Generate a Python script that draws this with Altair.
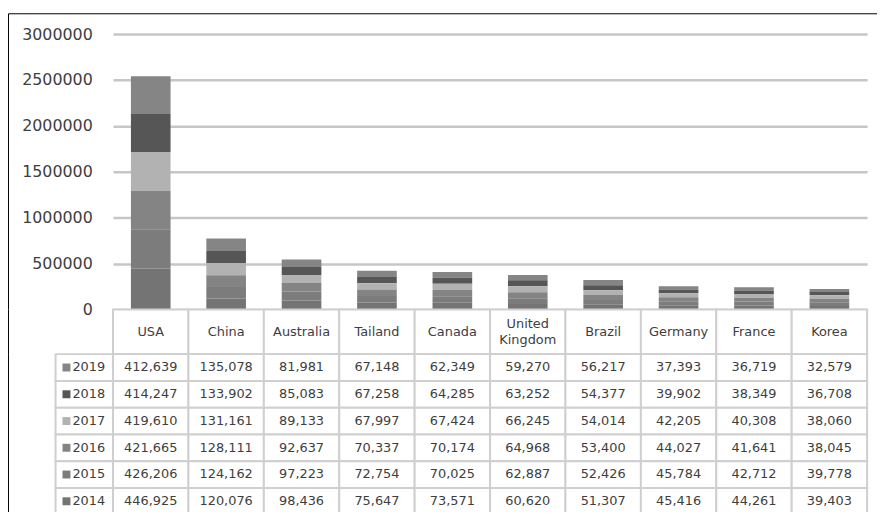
import altair as alt
import pandas as pd

countries = ["USA", "China", "Australia", "Tailand", "Canada", "United Kingdom",
             "Brazil", "Germany", "France", "Korea"]
header_labels = ["USA", "China", "Australia", "Tailand", "Canada", "United\nKingdom",
                 "Brazil", "Germany", "France", "Korea"]
years = ["2019", "2018", "2017", "2016", "2015", "2014"]

v2019 = [412639, 135078, 81981, 67148, 62349, 59270, 56217, 37393, 36719, 32579]
v2018 = [414247, 133902, 85083, 67258, 64285, 63252, 54377, 39902, 38349, 36708]
v2017 = [419610, 131161, 89133, 67997, 67424, 66245, 54014, 42205, 40308, 38060]
v2016 = [421665, 128111, 92637, 70337, 70174, 64968, 53400, 44027, 41641, 38045]
v2015 = [426206, 124162, 97223, 72754, 70025, 62887, 52426, 45784, 42712, 39778]
v2014 = [446925, 120076, 98436, 75647, 73571, 60620, 51307, 45416, 44261, 39403]

y_ticks = [0, 500000, 1000000, 1500000, 2000000, 2500000, 3000000]
colors = ["#858585", "#565656", "#b2b2b2", "#848484", "#7c7c7c", "#747474"]

series = {"2019": v2019, "2018": v2018, "2017": v2017,
          "2016": v2016, "2015": v2015, "2014": v2014}
rows = []
for yr, vals in series.items():
    for c, v in zip(countries, vals):
        rows.append({"country": c, "year": yr, "yearnum": int(yr),
                     "value": v, "label": f"{v:,}"})
df = pd.DataFrame(rows)
hdr_df = pd.DataFrame({"country": countries, "label": header_labels})
hdr_df["lines"] = hdr_df["label"].str.count("\n") + 1
leg_df = pd.DataFrame({"year": years})
one = alt.Data(values=[{"k": 1}])

FONT = "DejaVu Sans"
TXT = "#3e3e3e"
BORDER = "#cfcfcf"
W = 761
ROWS_H = 162          # full height of the six table rows

xsc = alt.Scale(domain=countries, paddingInner=0, paddingOuter=0)
csc = alt.Scale(domain=years, range=colors)
ysc = alt.Scale(domain=years, paddingInner=0, paddingOuter=0)
X = alt.X("country:N", scale=xsc, axis=None)
YR = alt.Y("year:N", scale=ysc, axis=None)

# ---- stacked bars ----
bars = alt.Chart(df).mark_bar(size=40).encode(
    x=X,
    y=alt.Y("value:Q", stack="zero",
            scale=alt.Scale(domain=[0, 3000000], nice=False),
            axis=alt.Axis(values=y_ticks, format="d", title=None, grid=True,
                          gridColor="#c6c6c6", gridWidth=2.5, domain=False,
                          ticks=False, labelFont=FONT, labelFontSize=16,
                          labelColor=TXT, labelPadding=21)),
    color=alt.Color("year:N", scale=csc, legend=None),
    order=alt.Order("yearnum:Q", sort="ascending"),
)
top_border = alt.Chart(one).mark_rule(color="black", strokeWidth=1).encode(
    x=alt.value(-105.5), x2=alt.value(771), y=alt.value(-20.5))
left_border1 = alt.Chart(one).mark_rule(color="black", strokeWidth=1).encode(
    x=alt.value(-105.5), y=alt.value(-20.5), y2=alt.value(278))
c1 = alt.layer(bars, top_border, left_border1).properties(width=W, height=278)

# ---- table header ----
HH = 45
hdr_cells = alt.Chart(hdr_df).mark_rect(fill="white", stroke=BORDER, strokeWidth=2).encode(x=X)
hdr_text1 = alt.Chart(hdr_df).transform_filter("datum.lines == 1").mark_text(
    font=FONT, fontSize=13, color=TXT, baseline="middle").encode(
    x=X, y=alt.value(HH / 2), text="label:N")
hdr_text2 = alt.Chart(hdr_df).transform_filter("datum.lines == 2").mark_text(
    font=FONT, fontSize=13, color=TXT, baseline="middle",
    lineBreak="\n", lineHeight=16).encode(
    x=X, y=alt.value(HH / 2 - 8), text="label:N")
left_border2 = alt.Chart(one).mark_rule(color="black", strokeWidth=1).encode(
    x=alt.value(-105.5), y=alt.value(0), y2=alt.value(HH))
c2 = alt.layer(hdr_cells, hdr_text1, hdr_text2, left_border2).properties(width=W, height=HH)

# ---- table body ----
cells = alt.Chart(df).mark_rect(fill="white", stroke=BORDER, strokeWidth=2).encode(x=X, y=YR)
texts = alt.Chart(df).mark_text(font=FONT, fontSize=13, color=TXT).encode(
    x=X, y=YR, text="label:N")
leg_cells = alt.Chart(leg_df).mark_rect(fill="white", stroke=BORDER, strokeWidth=2).encode(
    x=alt.value(-58), x2=alt.value(0), y=YR)
leg_sq = alt.Chart(leg_df).mark_square(size=64, opacity=1).encode(
    x=alt.value(-47), y=YR, color=alt.Color("year:N", scale=csc, legend=None))
leg_txt = alt.Chart(leg_df).mark_text(font=FONT, fontSize=13, color=TXT, align="left").encode(
    x=alt.value(-41), y=YR, text="year:N")
left_border3 = alt.Chart(one).mark_rule(color="black", strokeWidth=1).encode(
    x=alt.value(-105.5), y=alt.value(0), y2=alt.value(ROWS_H))
c3 = alt.layer(cells, texts, leg_cells, leg_sq, leg_txt, left_border3).properties(
    width=W, height=ROWS_H)

# svg kept to 877 x 504 so that the page fits the 885 x 520 window;
# the last few pixels of the table fall just below that window
chart = alt.vconcat(c1, c2, c3, spacing=0, bounds="flush").properties(
    autosize=alt.AutoSizeParams(type="none"),
    padding={"left": 106, "top": 24, "right": 10, "bottom": 480},
).configure_view(stroke=None)

chart.save("out.html", embed_options={"renderer": "svg", "actions": False})
